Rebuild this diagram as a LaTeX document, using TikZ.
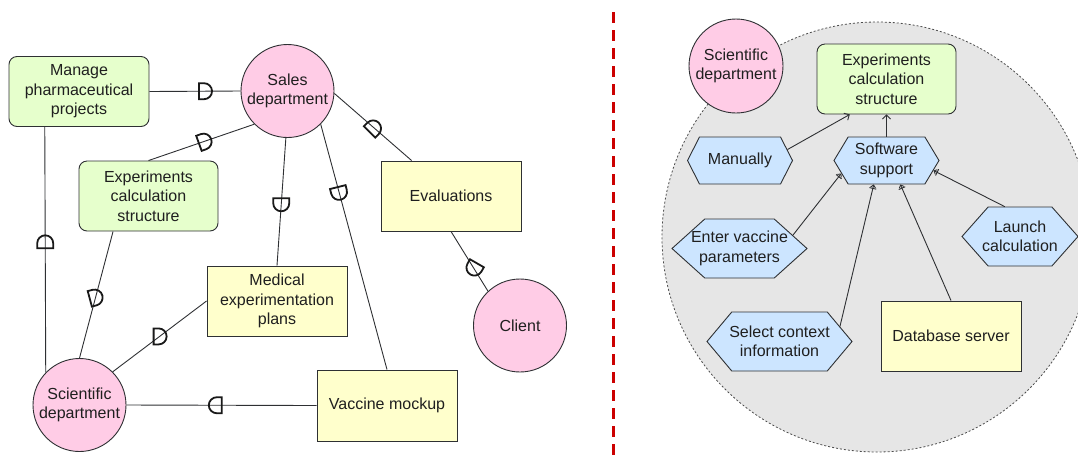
\documentclass[tikz,border=0pt]{standalone}
\usepackage{fontspec}
\setmainfont{Liberation Sans}
\usetikzlibrary{shapes.symbols,arrows.meta}

\definecolor{boxgreen}{HTML}{E6FFCC}
\definecolor{boxpink}{HTML}{FFCCE6}
\definecolor{boxyellow}{HTML}{FFFFCC}
\definecolor{boxblue}{HTML}{CCE5FF}
\definecolor{areagray}{HTML}{E6E6E6}
\definecolor{linegray}{HTML}{2E3033}
\definecolor{splitred}{HTML}{CC0000}

\tikzset{
  pics/reqmark/.style={code={
    \draw[line width=1.8pt, black!90] (-6pt,-8pt) -- (-6pt,8pt) -- (-1pt,8pt)
      arc[start angle=90, end angle=-90, radius=8pt] -- cycle;
  }}
}

\begin{document}
\begin{tikzpicture}[x=1pt, y=-1pt,
    every node/.style={font=\fontsize{16}{19.5}\selectfont, text=black!88, align=center},
    greenbox/.style={rectangle, rounded corners=8pt, draw=linegray, line width=0.9pt, fill=boxgreen, minimum width=140pt, minimum height=70pt},
    yellowbox/.style={rectangle, draw=linegray, line width=0.9pt, fill=boxyellow, minimum width=140pt, minimum height=70pt},
    dept/.style={circle, draw=linegray, line width=0.9pt, fill=boxpink, minimum size=93pt, inner sep=0pt},
    hexa/.style={signal, signal to=east and west, signal pointer angle=#1, draw=linegray, line width=0.9pt, fill=boxblue, inner xsep=-20pt, inner ysep=0pt},
    link/.style={linegray, line width=0.9pt},
    opentip/.style={-{Straight Barb[length=4pt, width=8pt]}},
    teetip/.style={-{Bar[width=7pt] Straight Barb[length=2.5pt, width=5pt]}}]
    \clip (0,0) rectangle (1078,459);

    % Left part: nodes
    \node[greenbox] (manage) at (79,91.5) {Manage\\pharmaceutical\\projects};
    \node[dept] (salesL) at (287.5,91) {Sales\\department};
    \node[greenbox, minimum width=139pt] (expL) at (148.5,196) {Experiments\\calculation\\structure};
    \node[yellowbox] (evals) at (451,196) {Evaluations};
    \node[yellowbox] (medical) at (277,301) {Medical\\experimentation\\plans};
    \node[dept] (sciL) at (79.5,405) {Scientific\\department};
    \node[yellowbox, minimum height=71pt] (vaccine) at (387,405.5) {Vaccine mockup};
    \node[dept] (client) at (520,325.5) {Client};

    % Left part: links with interface marks
    \draw[link] (manage.east) -- (salesL.west) pic[pos=.61] {reqmark};
    \draw[link] (salesL.225) -- (expL.north) pic[pos=.47, rotate=20] {reqmark};
    \draw[link] (salesL.268) -- (medical.north) pic[pos=.52, rotate=-90] {reqmark};
    \draw[link] (salesL.315) -- (vaccine.north) pic[pos=.28, rotate=-76] {reqmark};
    \draw[link] (salesL.-3) -- (evals.138) pic[pos=.51, rotate=45] {reqmark};
    \draw[link] (evals.south) -- (client.133) pic[pos=.62, rotate=-120] {reqmark};
    \draw[link] (manage.226) -- (sciL.136) pic[pos=.47, rotate=90] {reqmark}; % long vertical one
    \draw[link] (sciL.north) -- (expL.225) pic[pos=.48, rotate=15] {reqmark};
    \draw[link] (sciL.45) -- (medical.west) pic[pos=.5] {reqmark};
    \draw[link] (sciL.east) -- (vaccine.west) pic[pos=.47, rotate=180] {reqmark};

    % Separator
    \draw[splitred, line width=3pt, dash pattern=on 11pt off 7pt] (613,12) -- (613,459);

    % Right part: grey area
    \draw[fill=areagray, draw=black!70, line width=0.8pt, dash pattern=on 2pt off 2pt] (877,237) circle[radius=215pt];

    % Right part: nodes
    \node[dept, minimum size=94pt] (sciR) at (736,66) {Scientific\\department};
    \node[greenbox, minimum width=139pt] (expR) at (886.5,79) {Experiments\\calculation\\structure};
    \node[hexa=126, minimum width=105pt, minimum height=47pt] (manual) at (740,160.5) {Manually};
    \node[hexa=118, minimum width=105pt, minimum height=47pt] (software) at (886.5,160.5) {Software\\support};
    \node[hexa=84, minimum width=135pt, minimum height=59pt] (enter) at (739.5,248.5) {Enter vaccine\\parameters};
    \node[hexa=97, minimum width=116pt, minimum height=59pt] (launch) at (1020,236.5) {Launch\\calculation};
    \node[hexa=100, minimum width=145pt, minimum height=59pt] (select) at (779.5,341.5) {Select context\\information};
    \node[yellowbox] (dbserver) at (951,336) {Database server};

    % Right part: arrows
    \draw[link, opentip] (manual.13) -- (expR.224);
    \draw[link, opentip] (software.north) -- (expR.south);
    \draw[link, teetip] (enter.14) -- (software.196);
    \draw[link, teetip] (select.14) -- (software.242);
    \draw[link, teetip] (dbserver.north) -- (software.300);
    \draw[link, teetip] (launch.117) -- (software.-12);
\end{tikzpicture}
\end{document}
